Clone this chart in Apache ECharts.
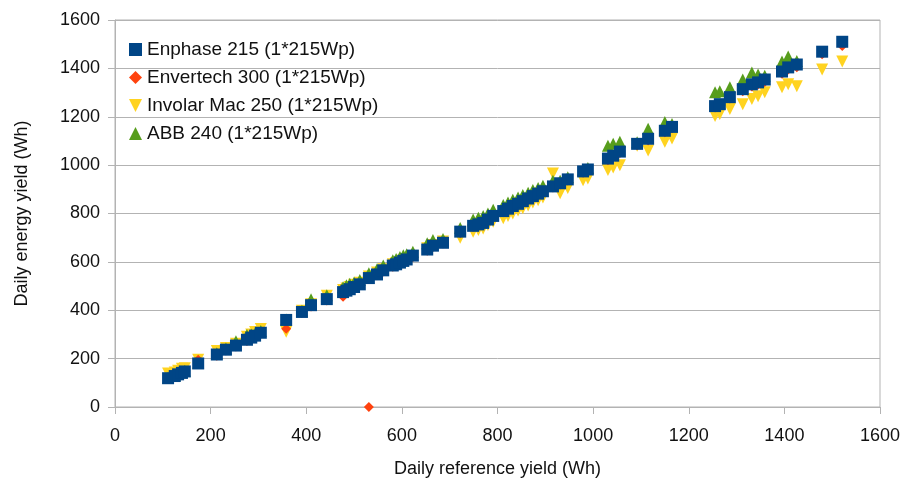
<!DOCTYPE html>
<html>
<head>
<meta charset="utf-8">
<title>Daily energy yield</title>
<script src="https://cdn.jsdelivr.net/npm/echarts@6/dist/echarts.min.js"></script>
<style>
  html, body { margin: 0; padding: 0; background: #fff; }
  #chart { width: 906px; height: 483px; }
</style>
</head>
<body>
<div id="chart"></div>
<script>
// 参考产量 (x 轴)
var refYield = [111,125,132,140,146,174,213,232,253,276,285,293,305,358,391,410,443,477,484,491,
  500,512,531,548,561,581,588,596,603,610,623,653,665,686,722,749,760,770,780,791,
  812,822,832,843,853,864,874,885,895,916,931,947,979,989,1031,1042,1056,1092,1115,1150,
  1165,1255,1265,1286,1313,1332,1345,1359,1395,1408,1426,1479,1521];

// 各逆变器的日发电量
var enphase = [119,128,135,141,147,180,217,237,254,278,287,295,307,360,393,421,446,475,481,487,
  496,507,533,548,565,585,590,597,604,610,626,651,667,679,725,749,755,761,775,790,
  810,820,831,840,851,862,872,882,892,912,925,941,974,982,1027,1039,1056,1088,1109,1142,
  1158,1244,1252,1281,1314,1334,1342,1354,1387,1404,1416,1469,1510];
var envertech = [116,126,133,139,145,195,212,234,250,273,284,291,303,323,389,415,440,456,478,484,
  492,504,0,545,560,580,586,592,600,606,620,646,661,676,718,744,750,757,770,785,
  805,815,826,836,846,858,868,878,888,908,920,936,968,978,1020,1033,1050,1082,1102,1136,
  1152,1238,1246,1275,1305,1325,1333,1344,1378,1395,1405,1458,1492];
var involar = [138,143,150,158,160,195,232,244,262,290,300,310,322,311,398,425,460,484,490,496,
  505,514,540,556,570,590,595,600,606,612,624,656,670,684,700,725,732,738,752,766,
  780,790,800,812,822,833,845,855,866,965,884,905,937,945,980,990,1000,1080,1060,1097,
  1110,1203,1211,1232,1252,1273,1285,1301,1322,1334,1326,1395,1428];
var abb = [122,131,138,144,150,183,222,242,272,298,300,304,314,362,398,445,462,495,503,510,
  515,525,553,570,585,607,612,620,627,632,642,677,690,695,740,775,782,790,800,815,
  835,845,857,866,876,886,897,905,915,935,935,950,980,988,1080,1088,1097,1095,1150,1178,
  1170,1301,1305,1322,1354,1383,1375,1370,1428,1449,1430,null,null];

var seriesNames = ['Enphase 215 (1*215Wp)', 'Envertech 300 (1*215Wp)', 'Involar Mac 250 (1*215Wp)', 'ABB 240 (1*215Wp)'];

// 把 x 和 y 合成散点数据，空值跳过
function pairs(ys) {
  var out = [];
  for (var i = 0; i < refYield.length; i++) {
    if (ys[i] !== null) out.push([refYield[i], ys[i]]);
  }
  return out;
}

var myChart = echarts.init(document.getElementById('chart'));

var font = 'Liberation Sans, Arial, sans-serif';
var plain = function (v) { return String(v); }; // 不要千位分隔符

var option = {
  animation: false,
  textStyle: { fontFamily: font },
  grid: {
    left: 115, right: 26, top: 20, bottom: 72,
    show: true,
    borderColor: '#b3b3b3',
    borderWidth: 1
  },
  legend: {
    orient: 'vertical',
    left: 124,
    top: 35,
    itemWidth: 13,
    itemHeight: 13,
    itemGap: 9,
    textStyle: { fontSize: 19, color: '#111', fontFamily: font },
    data: [
      { name: seriesNames[0], icon: 'rect' },
      { name: seriesNames[1], icon: 'diamond' },
      // 图例里的倒三角
      { name: seriesNames[2], icon: 'path://M0,0 L10,0 L5,10 Z' },
      { name: seriesNames[3], icon: 'triangle' }
    ]
  },
  xAxis: {
    type: 'value',
    min: 0, max: 1600, interval: 200,
    name: 'Daily reference yield (Wh)',
    nameLocation: 'middle',
    nameGap: 53,
    nameTextStyle: { fontSize: 18, color: '#111' },
    axisLine: { lineStyle: { color: '#b3b3b3' } },
    axisTick: { show: true, length: 7, lineStyle: { color: '#b3b3b3' } },
    axisLabel: { fontSize: 18, color: '#111', margin: 20, formatter: plain },
    splitLine: { show: false }
  },
  yAxis: {
    type: 'value',
    min: 0, max: 1600, interval: 200,
    name: 'Daily energy yield (Wh)',
    nameLocation: 'middle',
    nameGap: 84,
    nameTextStyle: { fontSize: 18, color: '#111' },
    axisLine: { show: true, lineStyle: { color: '#b3b3b3' } },
    axisTick: { show: true, length: 7, lineStyle: { color: '#b3b3b3' } },
    axisLabel: { fontSize: 18, color: '#111', margin: 15, formatter: plain },
    splitLine: { show: true, lineStyle: { color: '#b3b3b3' } }
  },
  series: [
    {
      name: seriesNames[0],
      type: 'scatter',
      symbol: 'rect',
      symbolSize: 12,
      z: 5,
      itemStyle: { color: '#004586', opacity: 1 },
      data: pairs(enphase)
    },
    {
      name: seriesNames[1],
      type: 'scatter',
      symbol: 'diamond',
      symbolSize: 10,
      z: 4,
      itemStyle: { color: '#ff420e', opacity: 1 },
      data: pairs(envertech)
    },
    {
      name: seriesNames[2],
      type: 'scatter',
      symbol: 'triangle',
      symbolRotate: 180,
      symbolSize: 12,
      z: 2,
      itemStyle: { color: '#ffd320', opacity: 1 },
      data: pairs(involar)
    },
    {
      name: seriesNames[3],
      type: 'scatter',
      symbol: 'triangle',
      symbolSize: 12,
      z: 3,
      itemStyle: { color: '#579d1c', opacity: 1 },
      data: pairs(abb)
    }
  ]
};

myChart.setOption(option);
</script>
</body>
</html>
